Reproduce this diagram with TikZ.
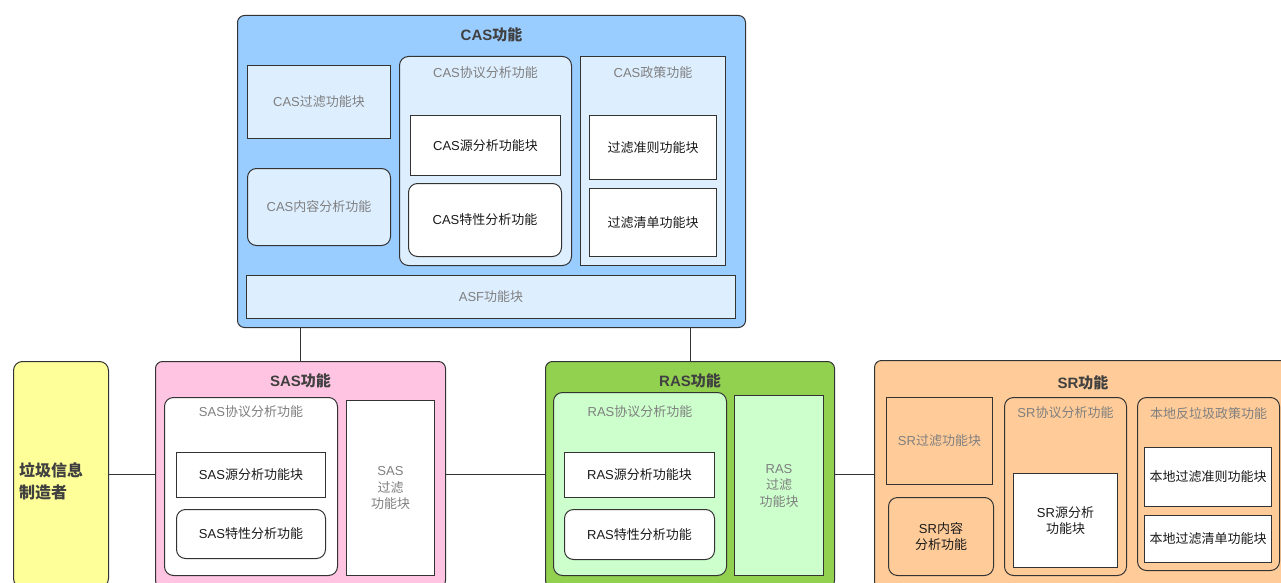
\documentclass[tikz,border=0pt]{standalone}
\usepackage{fontspec}
\setmainfont{Noto Sans CJK SC}
\newfontfamily\latin{Liberation Sans}
\newcommand\asc[1]{{\latin #1}}
\usetikzlibrary{positioning}

\definecolor{casblue}{HTML}{99CCFF}
\definecolor{caslight}{HTML}{DDEEFF}
\definecolor{spamyel}{HTML}{FFFF99}
\definecolor{saspink}{HTML}{FFC4E1}
\definecolor{rasgreen}{HTML}{92D050}
\definecolor{raslight}{HTML}{CCFFCC}
\definecolor{srorange}{HTML}{FFCC99}
\definecolor{linec}{HTML}{333333}
\definecolor{txtgray}{HTML}{7F7F7F}
\definecolor{txtdark}{HTML}{1A1A1A}
\definecolor{ttlgray}{HTML}{404040}

\begin{document}
\begin{tikzpicture}[x=1pt, y=-1pt, font=\fontsize{13}{16.5}\selectfont,
    grp/.style={draw=linec, line width=1pt, rounded corners=7pt, anchor=north west, inner sep=0pt},
    blk/.style={draw=linec, line width=1pt, anchor=north west, inner sep=0pt, align=center, text=txtgray},
    rblk/.style={blk, rounded corners=9pt},
    wht/.style={fill=white, text=txtdark},
    ttl/.style={font=\fontsize{15}{18}\selectfont\bfseries, text=ttlgray},
    sub/.style={text=txtgray, inner sep=0pt}]
  \useasboundingbox (0,0) rectangle (1281,583);
  \clip (0,0) rectangle (1281,583);
  % CAS
  \node[grp, fill=casblue, minimum width=508, minimum height=312] (cas) at (237,15) {};
  \node[ttl] (castitle) at ([yshift=-20]cas.north) {\asc{CAS}功能};
  \node[blk, fill=caslight, minimum width=143, minimum height=73] (cflt) at (247,65) {\asc{CAS}过滤功能块};
  \node[rblk, fill=caslight, minimum width=143, minimum height=77] (ccont) at (247,168) {\asc{CAS}内容分析功能};
  \node[rblk, fill=caslight, minimum width=172, minimum height=209] (cproto) at (399,56) {};
  \node[sub] (cprotot) at ([yshift=-17]cproto.north) {\asc{CAS}协议分析功能};
  \node[blk, wht, minimum width=150, minimum height=60] (csrc) at (410,115) {\asc{CAS}源分析功能块};
  \node[rblk, wht, minimum width=153, minimum height=73] (cfeat) at (408,183) {\asc{CAS}特性分析功能};
  \node[blk, fill=caslight, minimum width=145, minimum height=209] (cpol) at (580,56) {};
  \node[sub] (cpolt) at ([yshift=-17]cpol.north) {\asc{CAS}政策功能};
  \node[blk, wht, minimum width=127, minimum height=64] (crule) at (589,115) {过滤准则功能块};
  \node[blk, wht, minimum width=127, minimum height=68] (clist) at (589,188) {过滤清单功能块};
  \node[blk, fill=caslight, minimum width=489, minimum height=43] (asf) at (246,275) {\asc{ASF}功能块};
  % spam source
  \node[grp, fill=spamyel, rounded corners=9pt, minimum width=95, minimum height=226] (spam) at (13,361) {};
  \node[anchor=west, align=left, inner sep=0pt, text=ttlgray, font=\fontsize{16}{22}\selectfont\bfseries]
    (spamt) at ([xshift=6,yshift=-7]spam.west) {垃圾信息\\制造者};
  % SAS
  \node[grp, fill=saspink, minimum width=290, minimum height=226] (sas) at (155,361) {};
  \node[ttl] (sastitle) at ([yshift=-20]sas.north) {\asc{SAS}功能};
  \node[rblk, fill=white, minimum width=173, minimum height=178] (sproto) at (164,397) {};
  \node[sub] (sprotot) at ([yshift=-15]sproto.north) {\asc{SAS}协议分析功能};
  \node[blk, wht, minimum width=149, minimum height=45] (ssrc) at (176,452) {\asc{SAS}源分析功能块};
  \node[rblk, wht, minimum width=149, minimum height=49] (sfeat) at (176,509) {\asc{SAS}特性分析功能};
  \node[blk, fill=white, minimum width=88, minimum height=175] (sflt) at (346,400) {\asc{SAS}\\过滤\\功能块};
  % RAS
  \node[grp, fill=rasgreen, minimum width=289, minimum height=226] (ras) at (545,361) {};
  \node[ttl] (rastitle) at ([yshift=-20]ras.north) {\asc{RAS}功能};
  \node[rblk, fill=raslight, minimum width=173, minimum height=183] (rproto) at (553,392) {};
  \node[sub] (rprotot) at ([yshift=-20]rproto.north) {\asc{RAS}协议分析功能};
  \node[blk, wht, minimum width=150, minimum height=45] (rsrc) at (564,452) {\asc{RAS}源分析功能块};
  \node[rblk, wht, minimum width=150, minimum height=50] (rfeat) at (564,509) {\asc{RAS}特性分析功能};
  \node[blk, fill=raslight, minimum width=89, minimum height=180] (rflt) at (734,395) {\asc{RAS}\\过滤\\功能块};
  % SR
  \node[grp, fill=srorange, minimum width=420, minimum height=228] (sr) at (874,360) {};
  \node[ttl] (srtitle) at ([yshift=-23]sr.north -| 1083,0) {\asc{SR}功能};
  \node[blk, fill=srorange, minimum width=106, minimum height=87] (srflt) at (886,397) {\asc{SR}过滤功能块};
  \node[rblk, fill=srorange, text=txtdark, minimum width=105, minimum height=78] (srcont) at (888,497) {\asc{SR}内容\\分析功能};
  \node[rblk, fill=srorange, minimum width=122, minimum height=178] (srproto) at (1004,397) {};
  \node[sub] (srprotot) at ([yshift=-16]srproto.north) {\asc{SR}协议分析功能};
  \node[blk, wht, minimum width=104, minimum height=94] (srsrc) at (1013,473) {\asc{SR}源分析\\功能块};
  \node[rblk, fill=srorange, minimum width=142, minimum height=173] (srpol) at (1137,397) {};
  \node[sub] (srpolt) at ([yshift=-17]srpol.north) {本地反垃圾政策功能};
  \node[blk, wht, minimum width=127, minimum height=59] (srrule) at (1144,447) {本地过滤准则功能块};
  \node[blk, wht, minimum width=127, minimum height=47] (srlist) at (1144,515) {本地过滤清单功能块};
  % links
  \draw[linec, line width=1pt] (spam) -- (sas);
  \draw[linec, line width=1pt] (sas) -- (ras);
  \draw[linec, line width=1pt] (ras) -- (sr);
  \draw[linec, line width=1pt] (sas.north) -- (sas.north |- cas.south);
  \draw[linec, line width=1pt] (ras.north) -- (ras.north |- cas.south);
\end{tikzpicture}
\end{document}
